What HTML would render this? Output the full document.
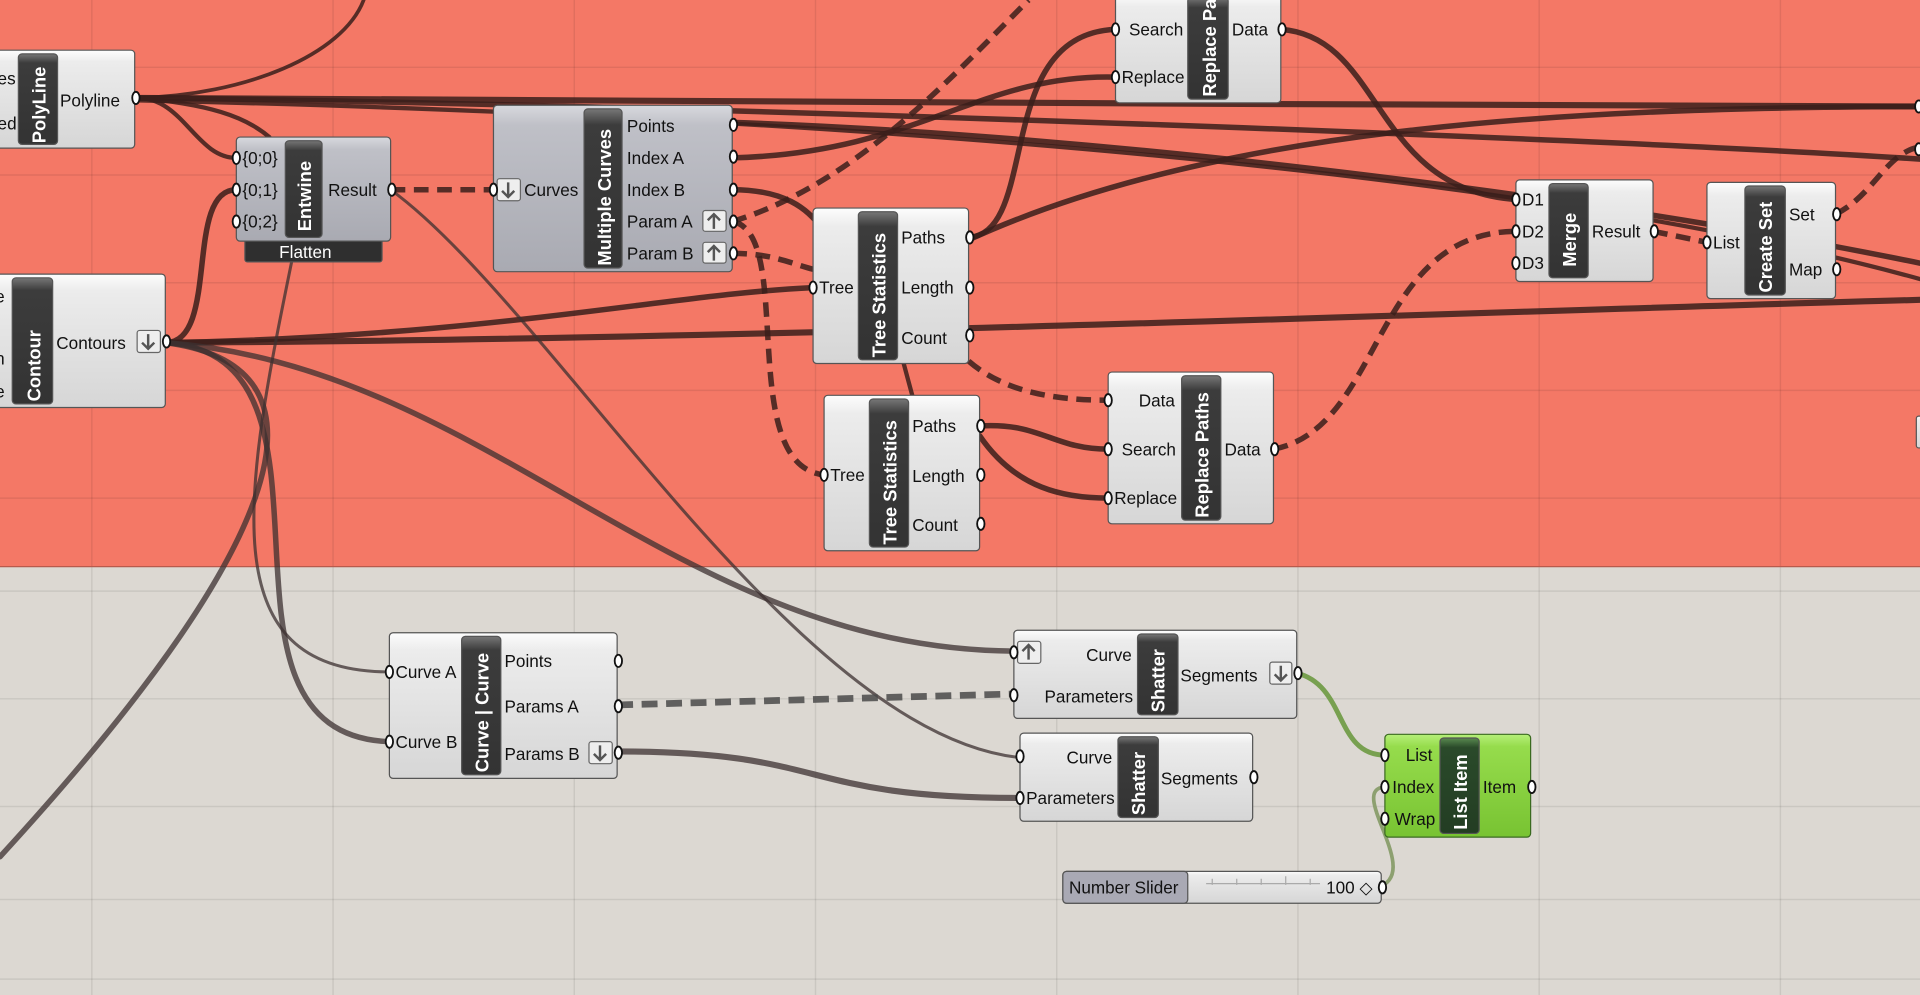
<!DOCTYPE html>
<html><head><meta charset="utf-8"><style>
html,body{margin:0;padding:0;width:1920px;height:995px;overflow:hidden;background:#dcd8d2}
svg{display:block}
text{font-family:"Liberation Sans",sans-serif;font-size:14px;fill:#111}
.b{font-weight:bold;fill:#fff;font-size:15px}
</style></head><body>
<svg width="1920" height="995" viewBox="0 0 1568 813" preserveAspectRatio="none" xmlns="http://www.w3.org/2000/svg">
<defs>
<linearGradient id="g" x1="0" y1="0" x2="0" y2="1"><stop offset="0" stop-color="#fdfdfd"/><stop offset="0.12" stop-color="#ececec"/><stop offset="1" stop-color="#d6d6d6"/></linearGradient>
<linearGradient id="gg" x1="0" y1="0" x2="0" y2="1"><stop offset="0" stop-color="#d8d9de"/><stop offset="0.12" stop-color="#bfc0c7"/><stop offset="1" stop-color="#a9aab2"/></linearGradient>
<linearGradient id="gr" x1="0" y1="0" x2="0" y2="1"><stop offset="0" stop-color="#b6f07a"/><stop offset="0.12" stop-color="#96dc4c"/><stop offset="1" stop-color="#78c332"/></linearGradient>
<linearGradient id="bar" x1="0" y1="0" x2="0" y2="1"><stop offset="0" stop-color="#777"/><stop offset="0.1" stop-color="#3c3c3c"/><stop offset="1" stop-color="#333"/></linearGradient>
<linearGradient id="barg" x1="0" y1="0" x2="0" y2="1"><stop offset="0" stop-color="#5a8a50"/><stop offset="0.1" stop-color="#2a4a2a"/><stop offset="1" stop-color="#233d23"/></linearGradient>
</defs>
<rect x="0" y="0" width="1568" height="813" fill="#dcd8d2"/>
<rect x="0" y="0" width="1568" height="463" fill="#f47866"/>
<g stroke="#000" stroke-opacity="0.08" stroke-width="1.2">
<path d="M75,0V813M272,0V813M469,0V813M666,0V813M863,0V813M1060,0V813M1257,0V813M1454,0V813"/>
<path d="M0,55H1568M0,143H1568M0,231H1568M0,319H1568M0,407H1568M0,483H1568M0,571H1568M0,659H1568M0,735H1568M0,800H1568"/>
</g>
<line x1="0" y1="463" x2="1568" y2="463" stroke="#b85a4c" stroke-width="1"/>

<g fill="none" stroke="#3a1f1b" stroke-opacity="0.85" stroke-width="4.5" stroke-linecap="round">
<path d="M112,80 C200,78 280,45 297,0" stroke-width="3"/>
<path d="M112,80 C500,82 1100,86 1568,87" stroke-width="5"/>
<path d="M112,80 C500,84 1300,112 1568,130"/>
<path d="M598,100 C900,110 1300,160 1568,215"/>
<path d="M112,82 C700,95 1250,140 1568,228" stroke-width="3.5"/>
<path d="M598,129 C750,125 800,60 911,63"/>
<path d="M791,194 C850,190 810,28 911,24"/>
<path d="M791,196 C1000,100 1300,88 1568,87"/>
<path d="M1046,24 C1130,30 1120,155 1238,163"/>
<path d="M598,155 C640,155 660,170 672,188"/>
<path d="M135,280 C400,275 550,240 664,235"/>
<path d="M135,280 C600,278 1200,255 1568,245" stroke-width="5"/>
<path d="M135,280 C180,280 150,155 193,155"/>
<path d="M112,80 C150,80 160,129 193,129" stroke-width="3.5"/>
<path d="M112,80 C170,85 200,95 220,112" stroke-width="3.5"/>
<path d="M738,297 L745,323" stroke-width="3.5"/>
<path d="M800,348 C850,345 860,367 905,367"/>
<path d="M800,356 C830,400 870,407 905,407"/>
</g>
<g fill="none" stroke="#3a1f1b" stroke-opacity="0.85" stroke-width="4.5" stroke-dasharray="12 7">
<path d="M319,155 L403,155"/>
<path d="M598,181 C700,150 780,60 840,0"/>
<path d="M598,181 C650,190 600,380 673,388"/>
<path d="M598,207 C630,207 645,215 664,220"/>
<path d="M791,295 C820,320 860,327 905,327"/>
<path d="M1040,367 C1130,350 1120,190 1238,189"/>
<path d="M1350,189 L1394,198"/>
<path d="M1499,175 C1530,160 1540,125 1568,120"/>
</g>
<g fill="none" stroke="#3c3030" stroke-opacity="0.75" stroke-width="3.5" stroke-linecap="round">
<path d="M319,155 C450,250 650,600 833,619" stroke-width="2.5"/>
<path d="M240,205 C200,400 170,549 318,549" stroke-width="2.5"/>
<path d="M135,280 C300,290 150,600 318,606" stroke-width="4.5"/>
<path d="M135,280 C290,300 220,460 0,700" stroke-width="4.5"/>
<path d="M135,280 C400,300 550,530 828,532" stroke-width="4.5"/>
<path d="M504,614 C680,614 650,652 833,652" stroke-width="5"/>
</g>
<path d="M504,576 L828,567" fill="none" stroke="#4a4a4a" stroke-opacity="0.85" stroke-width="5.5" stroke-dasharray="13 7"/>
<path d="M1059,550 C1100,560 1090,617 1131,617" fill="none" stroke="#78a050" stroke-width="4"/>
<path d="M1128,724 C1160,710 1100,645 1131,643" fill="none" stroke="#8da070" stroke-width="3"/>

<g stroke="#555" stroke-width="1">
<rect x="-5" y="41" width="115" height="80" rx="3" fill="url(#g)"/>
<rect x="15" y="44" width="32" height="74" rx="3" fill="url(#bar)"/>
<rect x="200" y="192" width="112" height="22" rx="2" fill="#2f2f2f"/>
<rect x="193" y="112" width="126" height="85" rx="3" fill="url(#gg)"/>
<rect x="233" y="115" width="30" height="79" rx="3" fill="url(#bar)"/>
<rect x="403" y="86" width="195" height="136" rx="3" fill="url(#gg)"/>
<rect x="477" y="89" width="31" height="130" rx="3" fill="url(#bar)"/>
<rect x="-5" y="224" width="140" height="109" rx="3" fill="url(#g)"/>
<rect x="10" y="227" width="33" height="103" rx="3" fill="url(#bar)"/>
<rect x="911" y="-5" width="135" height="89" rx="3" fill="url(#g)"/>
<rect x="970" y="-2" width="33" height="83" rx="3" fill="url(#bar)"/>
<rect x="664" y="170" width="127" height="127" rx="3" fill="url(#g)"/>
<rect x="701" y="173" width="32" height="121" rx="3" fill="url(#bar)"/>
<rect x="673" y="323" width="127" height="127" rx="3" fill="url(#g)"/>
<rect x="710" y="326" width="32" height="121" rx="3" fill="url(#bar)"/>
<rect x="905" y="304" width="135" height="124" rx="3" fill="url(#g)"/>
<rect x="965" y="307" width="32" height="118" rx="3" fill="url(#bar)"/>
<rect x="1238" y="147" width="112" height="83" rx="3" fill="url(#g)"/>
<rect x="1265" y="150" width="32" height="77" rx="3" fill="url(#bar)"/>
<rect x="1394" y="149" width="105" height="95" rx="3" fill="url(#g)"/>
<rect x="1425" y="152" width="33" height="89" rx="3" fill="url(#bar)"/>
<rect x="1565" y="340" width="10" height="26" rx="2" fill="url(#g)"/>
<rect x="318" y="517" width="186" height="119" rx="3" fill="url(#g)"/>
<rect x="377" y="520" width="32" height="113" rx="3" fill="url(#bar)"/>
<rect x="828" y="515" width="231" height="72" rx="3" fill="url(#g)"/>
<rect x="929" y="518" width="33" height="66" rx="3" fill="url(#bar)"/>
<rect x="833" y="599" width="190" height="72" rx="3" fill="url(#g)"/>
<rect x="913" y="602" width="33" height="66" rx="3" fill="url(#bar)"/>
<rect x="1131" y="600" width="119" height="84" rx="3" fill="url(#gr)" stroke="#3a6a20"/>
<rect x="1176" y="603" width="32" height="78" rx="3" fill="url(#barg)"/>
<rect x="868" y="712" width="260" height="26" rx="3" fill="url(#g)"/>
<rect x="868" y="712" width="102" height="26" rx="3" fill="#a9a9b4"/>
</g>
<path d="M985,722 H1078 M990,718v5 M1010,718v5 M1030,718v5 M1050,716v7 M1070,718v5" stroke="#aaa" stroke-width="1" fill="none"/>

<g stroke="#666" fill="#eee" stroke-width="1">
<rect x="112" y="270" width="19" height="18" rx="2"/>
<rect x="406" y="146" width="19" height="18" rx="2"/>
<rect x="574" y="172" width="19" height="17" rx="2"/>
<rect x="574" y="198" width="19" height="17" rx="2"/>
<rect x="481" y="606" width="19" height="18" rx="2"/>
<rect x="831" y="524" width="19" height="18" rx="2"/>
<rect x="1037" y="541" width="18" height="18" rx="2"/>
</g>
<g stroke="#555" stroke-width="2" fill="none">
<path d="M121,273v12M116,280l5,5 5,-5"/>
<path d="M415,149v12M410,156l5,5 5,-5"/>
<path d="M583,187v-12M578,180l5,-5 5,5"/>
<path d="M583,213v-12M578,206l5,-5 5,5"/>
<path d="M490,609v12M485,616l5,5 5,-5"/>
<path d="M840,539v-12M835,532l5,-5 5,5"/>
<path d="M1046,544v12M1041,551l5,5 5,-5"/>
</g>

<g fill="#fff" stroke="#111" stroke-width="1.5">
<ellipse cx="111" cy="80" rx="3" ry="5"/>
<ellipse cx="193" cy="129" rx="3" ry="5"/><ellipse cx="193" cy="155" rx="3" ry="5"/><ellipse cx="193" cy="181" rx="3" ry="5"/><ellipse cx="320" cy="155" rx="3" ry="5"/>
<ellipse cx="403" cy="155" rx="3" ry="5"/>
<ellipse cx="599" cy="102" rx="3" ry="5"/><ellipse cx="599" cy="128" rx="3" ry="5"/><ellipse cx="599" cy="155" rx="3" ry="5"/><ellipse cx="599" cy="181" rx="3" ry="5"/><ellipse cx="599" cy="207" rx="3" ry="5"/>
<ellipse cx="136" cy="279" rx="3" ry="5"/>
<ellipse cx="911" cy="24" rx="3" ry="5"/><ellipse cx="911" cy="63" rx="3" ry="5"/><ellipse cx="1047" cy="24" rx="3" ry="5"/>
<ellipse cx="664" cy="235" rx="3" ry="5"/><ellipse cx="792" cy="194" rx="3" ry="5"/><ellipse cx="792" cy="235" rx="3" ry="5"/><ellipse cx="792" cy="274" rx="3" ry="5"/>
<ellipse cx="673" cy="388" rx="3" ry="5"/><ellipse cx="801" cy="348" rx="3" ry="5"/><ellipse cx="801" cy="388" rx="3" ry="5"/><ellipse cx="801" cy="428" rx="3" ry="5"/>
<ellipse cx="905" cy="327" rx="3" ry="5"/><ellipse cx="905" cy="367" rx="3" ry="5"/><ellipse cx="905" cy="407" rx="3" ry="5"/><ellipse cx="1041" cy="367" rx="3" ry="5"/>
<ellipse cx="1238" cy="163" rx="3" ry="5"/><ellipse cx="1238" cy="189" rx="3" ry="5"/><ellipse cx="1238" cy="215" rx="3" ry="5"/><ellipse cx="1351" cy="189" rx="3" ry="5"/>
<ellipse cx="1394" cy="198" rx="3" ry="5"/><ellipse cx="1500" cy="175" rx="3" ry="5"/><ellipse cx="1500" cy="220" rx="3" ry="5"/>
<ellipse cx="1567" cy="87" rx="3" ry="5"/><ellipse cx="1567" cy="122" rx="3" ry="5"/>
<ellipse cx="318" cy="549" rx="3" ry="5"/><ellipse cx="318" cy="606" rx="3" ry="5"/><ellipse cx="505" cy="540" rx="3" ry="5"/><ellipse cx="505" cy="577" rx="3" ry="5"/><ellipse cx="505" cy="615" rx="3" ry="5"/>
<ellipse cx="828" cy="533" rx="3" ry="5"/><ellipse cx="828" cy="568" rx="3" ry="5"/><ellipse cx="1060" cy="550" rx="3" ry="5"/>
<ellipse cx="833" cy="618" rx="3" ry="5"/><ellipse cx="833" cy="652" rx="3" ry="5"/><ellipse cx="1024" cy="635" rx="3" ry="5"/>
<ellipse cx="1131" cy="617" rx="3" ry="5"/><ellipse cx="1131" cy="643" rx="3" ry="5"/><ellipse cx="1131" cy="669" rx="3" ry="5"/><ellipse cx="1251" cy="643" rx="3" ry="5"/>
<ellipse cx="1129" cy="725" rx="3" ry="5"/>
</g>

<text class="b" transform="translate(37,117) rotate(-90)">PolyLine</text>
<text class="b" transform="translate(254,189) rotate(-90)">Entwine</text>
<text class="b" transform="translate(499,217) rotate(-90)">Multiple Curves</text>
<text class="b" transform="translate(33,328) rotate(-90)">Contour</text>
<text class="b" transform="translate(993,79) rotate(-90)">Replace Paths</text>
<text class="b" transform="translate(723,292) rotate(-90)">Tree Statistics</text>
<text class="b" transform="translate(732,445) rotate(-90)">Tree Statistics</text>
<text class="b" transform="translate(987,423) rotate(-90)">Replace Paths</text>
<text class="b" transform="translate(1287,218) rotate(-90)">Merge</text>
<text class="b" transform="translate(1447,239) rotate(-90)">Create Set</text>
<text class="b" transform="translate(399,631) rotate(-90)">Curve | Curve</text>
<text class="b" transform="translate(951,582) rotate(-90)">Shatter</text>
<text class="b" transform="translate(935,666) rotate(-90)">Shatter</text>
<text class="b" transform="translate(1198,678) rotate(-90)">List Item</text>

<text x="-2" y="69">es</text><text x="-2" y="106">ed</text><text x="49" y="87">Polyline</text>
<text x="198" y="134">{0;0}</text><text x="198" y="160">{0;1}</text><text x="198" y="186">{0;2}</text><text x="268" y="160">Result</text>
<text x="228" y="211" style="fill:#fff">Flatten</text>
<text x="428" y="160">Curves</text>
<text x="512" y="108">Points</text><text x="512" y="134">Index A</text><text x="512" y="160">Index B</text><text x="512" y="186">Param A</text><text x="512" y="212">Param B</text>
<text x="-4" y="247">e</text><text x="-4" y="273">t</text><text x="-4" y="298">n</text><text x="-4" y="325">e</text><text x="46" y="285">Contours</text>
<text x="922" y="29">Search</text><text x="916" y="68">Replace</text><text x="1006" y="29">Data</text>
<text x="669" y="240">Tree</text><text x="736" y="199">Paths</text><text x="736" y="240">Length</text><text x="736" y="281">Count</text>
<text x="678" y="393">Tree</text><text x="745" y="353">Paths</text><text x="745" y="394">Length</text><text x="745" y="434">Count</text>
<text x="930" y="332">Data</text><text x="916" y="372">Search</text><text x="910" y="412">Replace</text><text x="1000" y="372">Data</text>
<text x="1243" y="168">D1</text><text x="1243" y="194">D2</text><text x="1243" y="220">D3</text><text x="1300" y="194">Result</text>
<text x="1399" y="203">List</text><text x="1461" y="180">Set</text><text x="1461" y="225">Map</text>
<text x="323" y="554">Curve A</text><text x="323" y="611">Curve B</text>
<text x="412" y="545">Points</text><text x="412" y="582">Params A</text><text x="412" y="621">Params B</text>
<text x="887" y="540">Curve</text><text x="853" y="574">Parameters</text><text x="964" y="557">Segments</text>
<text x="871" y="624">Curve</text><text x="838" y="657">Parameters</text><text x="948" y="641">Segments</text>
<text x="1148" y="622">List</text><text x="1137" y="648">Index</text><text x="1139" y="674">Wrap</text><text x="1211" y="648">Item</text>
<text x="873" y="730">Number Slider</text><text x="1083" y="730">100 ◇</text>
</svg>
</body></html>
